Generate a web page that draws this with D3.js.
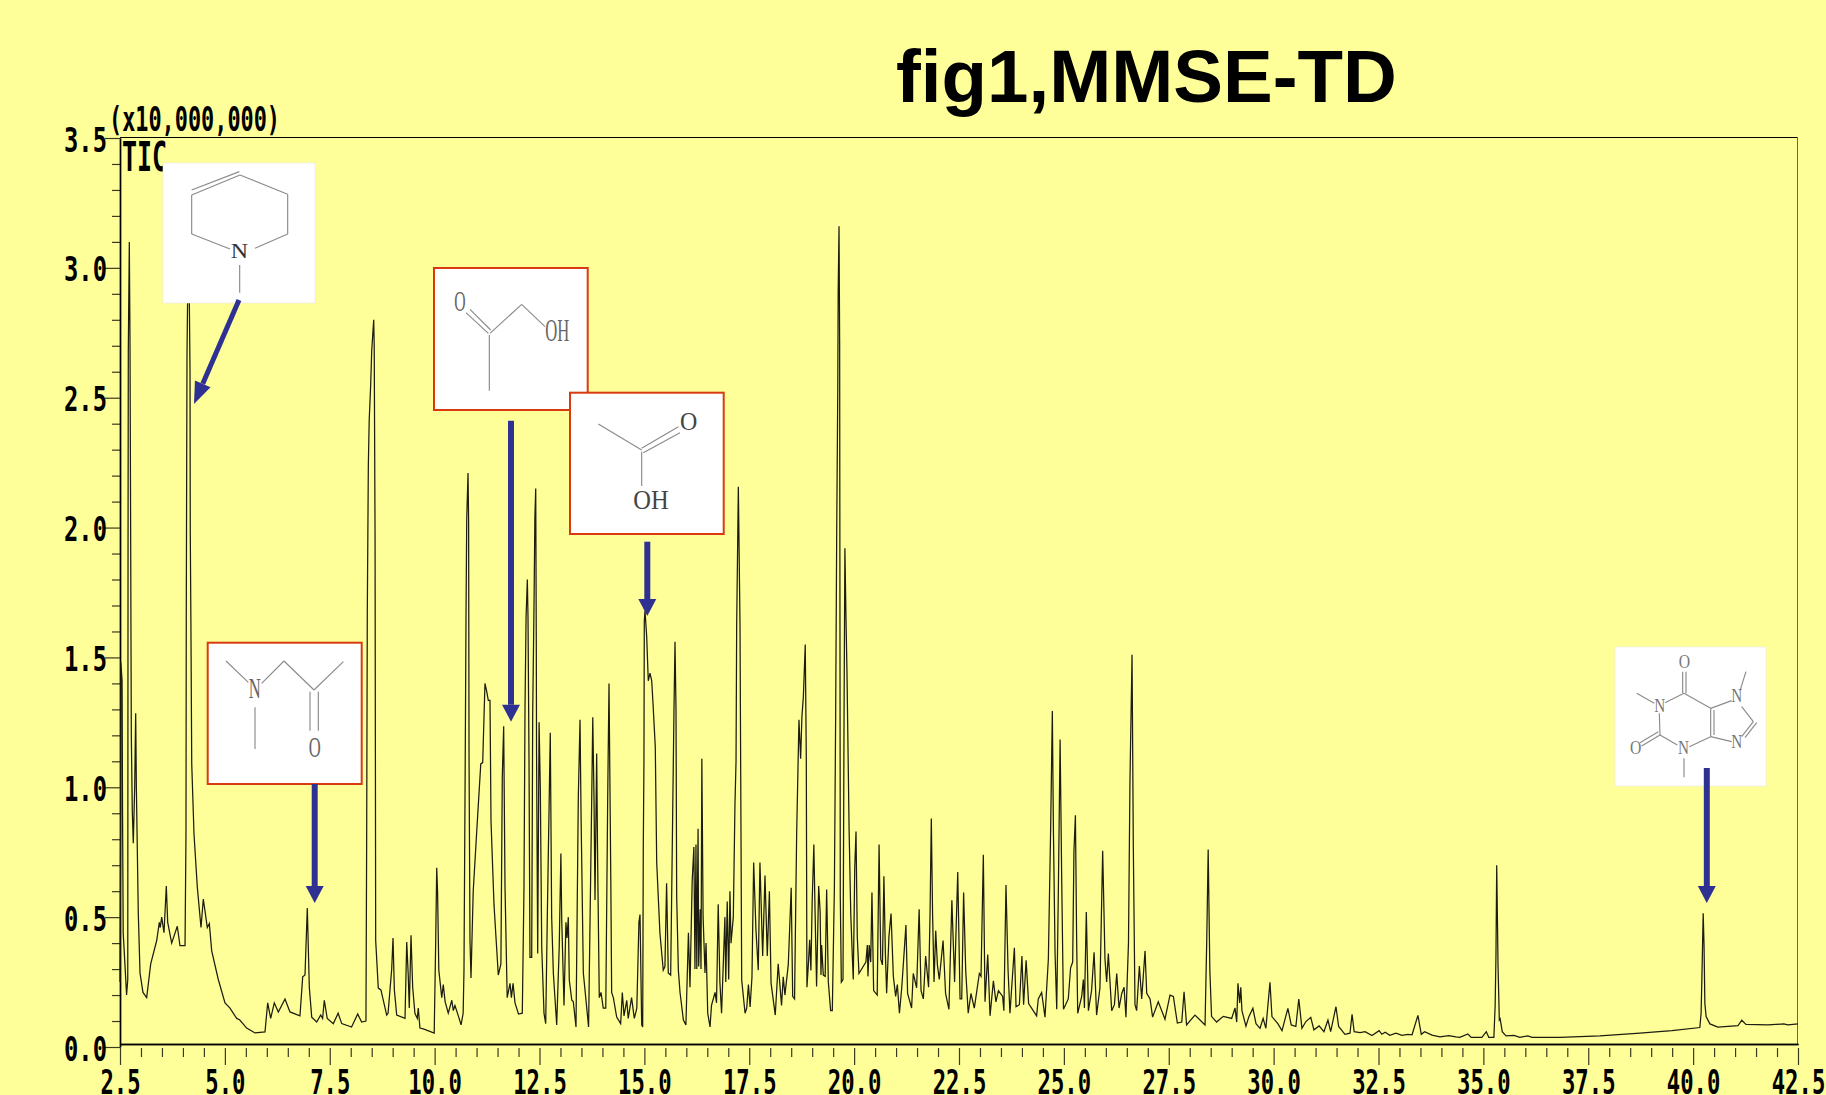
<!DOCTYPE html>
<html>
<head>
  <title>fig1,MMSE-TD</title>
  <style>
    html, body { margin: 0; padding: 0; background: #ffff99; overflow: hidden; }
    svg { display: block; }
    .tick-label { font-family: "DejaVu Sans Mono", monospace; font-weight: bold; fill: #000; }
    .atom { font-family: "Liberation Serif", serif; }
  </style>
  <script src="https://d3js.org/d3.v7.min.js"></script>
</head>
<body>
  <svg id="chart" width="1826" height="1095"></svg>

  <script>
    // retention time (min), TIC (x10,000,000)
    const traceEarly = [
      [2.5,.25],[2.517,.92],[2.52,1.48],[2.55,1.41],[2.56,.92],[2.576,.44],[2.617,.32],[2.657,.2],[2.685,.26],
      [2.692,1.94],[2.698,2.68],[2.722,3.10],[2.738,2.73],[2.755,1.94],[2.762,1.57],[2.77,1.2],[2.793,.91],[2.817,.785],
      [2.85,1.0],[2.874,1.285],[2.89,1.0],[2.936,.515],[2.977,.285],[3.048,.21],[3.136,.19],[3.232,.32],[3.375,.41],
      [3.437,.48],[3.46,.46],[3.494,.5],[3.549,.44],[3.604,.62],[3.637,.48],[3.732,.4],[3.866,.465],[3.93,.39],[4.05,.39],
      [4.073,.82],[4.08,1.67],[4.097,2.66],[4.133,3.2],[4.169,2.6],[4.175,1.99],[4.19,1.64],[4.21,1.09],[4.264,.82],
      [4.343,.615],[4.431,.46],[4.486,.57],[4.581,.46],[4.63,.475],[4.686,.37],[4.843,.26],[5.003,.17],[5.122,.15],
      [5.282,.11],[5.35,.105],[5.52,.073],[5.718,.054],[5.956,.058],[6.021,.17],[6.092,.11],[6.178,.17],[6.274,.135],
      [6.433,.185],[6.552,.135],[6.79,.12],[6.855,.27],[6.91,.277],[6.965,.535],[7.013,.23],[7.07,.115],[7.189,.096],
      [7.284,.123],[7.33,.11],[7.37,.18],[7.44,.11],[7.585,.09],[7.70,.13],[7.785,.09],[8.02,.077],[8.166,.127],[8.26,.096],
      [8.363,.1],[8.38,.8],[8.395,1.67],[8.42,2.24],[8.44,2.41],[8.476,2.55],[8.50,2.68],[8.548,2.80],[8.56,2.7],[8.58,1.97],
      [8.595,.41]
    ];
    const traceMidA = [
      [8.657,.227],[8.72,.22],[8.857,.123],[8.89,.13],[8.936,.22],[8.977,.3],[9.008,.42],[9.04,.22],[9.096,.123],[9.294,.11],
      [9.335,.404],[9.37,.28],[9.396,.15],[9.437,.43],[9.477,.23],[9.53,.13],[9.587,.11],[9.61,.15],[9.65,.073],[9.73,.07],
      [9.99,.054],[10.025,.4],[10.05,.69],[10.07,.6],[10.1,.296],[10.17,.19],[10.206,.24],[10.25,.175],[10.325,.13],
      [10.41,.18],[10.445,.14],[10.485,.16],[10.565,.12],[10.63,.085],[10.68,.13],[10.7,.296],[10.73,1.12],[10.748,1.655],
      [10.765,2.03],[10.796,2.21],[10.81,2.03],[10.82,1.13],[10.843,.41],[10.867,.266],[10.92,.6],[11.0,.82],[11.1,1.09],
      [11.146,1.095],[11.2,1.4],[11.24,1.37],[11.28,1.335],[11.32,1.335],[11.344,.87],[11.415,.55],[11.456,.44],[11.518,.277],
      [11.58,.32],[11.613,1.04],[11.646,1.235],[11.678,.615],[11.73,.19],[11.797,.245],[11.83,.19],[11.87,.245],[11.916,.17],
      [12.0,.127],[12.09,.13],[12.13,.615],[12.155,1.31],[12.18,1.655],[12.21,1.8],[12.226,1.655],[12.25,1.1],[12.273,.345],
      [12.314,.345],[12.338,1.285],[12.37,1.71],[12.39,2.04],[12.41,2.15],[12.423,1.58],[12.43,1.13],[12.457,.36],[12.49,1.25],
      [12.52,.99],[12.553,.385],[12.607,.13],[12.648,.09],[12.686,.5],[12.757,1.21],[12.79,.5],[12.83,.285],[12.91,.085],
      [12.97,.385],[13.01,.745],[13.03,.49],[13.084,.16],[13.13,.48],[13.156,.42],[13.187,.5],[13.21,.258],[13.27,.18],
      [13.305,.175],[13.37,.077],[13.425,.96],[13.466,1.26],[13.49,.9],[13.545,.285],[13.67,.077],[13.745,.96],[13.77,1.27],
      [13.8,.95],[13.823,.566],[13.863,1.13],[13.887,.7],[13.925,.19],[13.966,.21],[14.02,.15],[14.08,.15],[14.125,.95],
      [14.157,1.40],[14.2,.64],[14.22,.21],[14.26,.19],[14.34,.115],[14.435,.09],[14.474,.21],[14.515,.12],[14.58,.18],
      [14.615,.11],[14.695,.19],[14.76,.11],[14.82,.15],[14.87,.48],[14.896,.51],[14.936,.085],[14.96,.077],[14.974,.77],
      [14.99,1.1],[14.998,1.64],[15.015,1.68],[15.055,1.58],[15.093,1.41],[15.134,1.44],[15.175,1.41],[15.21,1.31],[15.236,1.23],
      [15.26,1.155],[15.294,.71],[15.37,.44],[15.45,.296],[15.49,.31],[15.53,.63],[15.57,.285],[15.627,.277],[15.675,.9],
      [15.706,1.3],[15.73,1.56],[15.754,1.3],[15.77,.58],[15.81,.296],[15.85,.21],[15.93,.104],[15.99,.085],[16.05,.44],
      [16.087,.23],[16.14,.64],[16.18,.77],[16.206,.3],[16.23,.78],[16.25,.3],[16.28,.84],[16.295,.31],[16.33,.53],[16.35,.3],
      [16.37,1.11],[16.4,.5],[16.445,.285],[16.47,.4],[16.51,.13],[16.565,.077],[16.6,.16],[16.685,.21],[16.72,.17],[16.76,.55],
      [16.8,.25],[16.84,.13],[16.92,.5],[16.94,.25],[16.975,.56],[17.01,.26],[17.04,.6],[17.065,.4],[17.12,.5],[17.16,.94],
      [17.185,1.1],[17.2,1.62],[17.24,2.157],[17.28,1.62],[17.295,1.1],[17.32,.258],[17.4,.13],[17.44,.15],[17.48,.24],[17.52,.154],
      [17.565,.27],[17.605,.71],[17.66,.45],[17.715,.296],[17.755,.71],[17.82,.35],[17.875,.66],[17.93,.35],[17.98,.6],[18.02,.246],
      [18.12,.123],[18.19,.32],[18.27,.16],[18.31,.27],[18.35,.2],[18.43,.316]
    ];
    const traceMidB = [
      [18.50,.613],[18.535,.195],[18.58,.185],[18.63,.82],[18.66,1.06],[18.685,1.26],[18.725,1.11],[18.755,1.27],[18.79,1.35],
      [18.835,1.55],[18.86,1.11],[18.875,.23],[18.91,.32],[18.94,.413],[18.97,.295],[19.0,.56],[19.04,.78],[19.07,.51],[19.105,.233],
      [19.155,.62],[19.19,.52],[19.21,.277],[19.225,.393],[19.265,.277],[19.31,.272],[19.345,.606],[19.385,.25],[19.44,.14],[19.48,.14],
      [19.53,.62],[19.56,1.28],[19.585,1.985],[19.61,2.53],[19.62,2.91],[19.64,3.16],[19.655,2.71],[19.67,.58],[19.695,.25],[19.735,.26],
      [19.76,1.28],[19.78,1.92],[19.805,1.66],[19.83,1.44],[19.88,.84],[19.92,.51],[19.965,.316],[19.98,.26],[20.015,.69],[20.045,.83],
      [20.075,.426],[20.115,.283],[20.28,.327],[20.315,.393],[20.33,.272],[20.36,.393],[20.395,.327],[20.425,.595],[20.465,.217],
      [20.55,.2],[20.595,.78],[20.635,.338],[20.675,.316],[20.71,.657],[20.745,.36],[20.775,.207],[20.83,.426],[20.88,.514],[20.935,.272],
      [20.99,.195],[21.03,.24],[21.08,.13],[21.135,.228],[21.19,.36],[21.235,.47],[21.275,.206],[21.37,.15],[21.41,.283],[21.49,.228],
      [21.55,.53],[21.595,.217],[21.65,.185],[21.705,.35],[21.775,.23],[21.81,.514],[21.84,.88],[21.87,.514],[21.905,.25],[21.945,.448],
      [21.985,.316],[22.03,.26],[22.12,.41],[22.18,.206],[22.26,.145],[22.33,.565],[22.395,.25],[22.47,.674],[22.525,.185],[22.565,.185],
      [22.61,.595],[22.66,.294],[22.72,.13],[22.785,.206],[22.865,.15],[22.985,.283],[23.025,.272],[23.08,.74],[23.12,.174],[23.185,.356],
      [23.24,.12],[23.32,.255],[23.38,.174],[23.44,.217],[23.54,.195],[23.57,.14],[23.62,.624],[23.67,.294],[23.715,.13],[23.82,.382],
      [23.86,.155],[23.94,.163],[24.0,.35],[24.04,.163],[24.1,.334],[24.16,.167],[24.35,.12],[24.39,.185],[24.47,.21],[24.55,.115],
      [24.63,.338],[24.685,.843],[24.725,1.294],[24.75,.843],[24.79,.36],[24.83,.145],[24.87,.624],[24.91,1.184],[24.95,.624],[24.99,.145],
      [25.105,.185],[25.16,.305],[25.21,.327],[25.24,.755],[25.275,.892],[25.305,.404],[25.33,.13],[25.425,.195],[25.465,.26],[25.49,.15],
      [25.535,.52],[25.585,.14],[25.66,.217],[25.72,.365],[25.78,.123],[25.86,.228],[25.925,.756],[25.98,.338],[26.02,.25],[26.06,.36],
      [26.14,.14],[26.205,.163],[26.26,.283],[26.315,.15],[26.38,.206],[26.435,.23],[26.48,.115],[26.54,.4],[26.575,1.02],[26.625,1.51],
      [26.655,.777],[26.695,.163],[26.735,.14],[26.8,.312],[26.855,.185],[26.935,.37],[26.975,.207],[27.055,.185],[27.115,.115],[27.25,.174],
      [27.41,.107],[27.53,.2],[27.61,.195],[27.705,.092],[27.81,.096],[27.865,.213],[27.925,.085],[28.125,.123],[28.365,.085],[28.405,.404],
      [28.44,.76],[28.48,.294],[28.52,.118],[28.64,.096],[28.8,.118],[29.0,.11],[29.08,.15],[29.12,.096]
    ];
    const traceLate = [
      [29.15,.245],[29.19,.17],[29.217,.23],[29.245,.14],[29.34,.08],[29.41,.117],[29.505,.149],[29.58,.09],[29.675,.072],[29.75,.11],
      [29.815,.072],[29.913,.249],[29.96,.117],[30.1,.09],[30.2,.063],[30.34,.149],[30.42,.085],[30.53,.079],[30.6,.185],[30.675,.072],
      [30.77,.098],[30.885,.114],[30.96,.066],[31.085,.081],[31.2,.059],[31.295,.104],[31.36,.059],[31.486,.155],[31.55,.079],[31.7,.049],
      [31.82,.053],[31.87,.126],[31.92,.059],[32.06,.055],[32.18,.059],[32.345,.044],[32.515,.063],[32.58,.049],[32.66,.057],[32.77,.045],
      [32.915,.053],[33.06,.045],[33.2,.049],[33.3,.047],[33.44,.122],[33.52,.049],[33.6,.059],[33.775,.046],[33.965,.039],[34.175,.044],
      [34.345,.039],[34.44,.037],[34.63,.05],[34.71,.037],[34.965,.037],[35.07,.059],[35.13,.037],[35.25,.037],[35.28,.155],[35.3,.35],
      [35.318,.7],[35.35,.31],[35.38,.104],[35.4,.109],[35.45,.059],[35.54,.043],[35.73,.045],[35.87,.037],[36.06,.043],[36.16,.037],
      [36.825,.037],[37.78,.043],[38.73,.053],[39.495,.063],[40.16,.075],[40.19,.13],[40.21,.271],[40.24,.515],[40.26,.393],[40.28,.168],
      [40.31,.117],[40.4,.089],[40.59,.077],[41.07,.082],[41.16,.103],[41.26,.087],[41.78,.085],[42.16,.089],[42.26,.085],[42.5,.089]
    ];

    const xMajor = [2.5, 5, 7.5, 10, 12.5, 15, 17.5, 20, 22.5, 25, 27.5, 30, 32.5, 35, 37.5, 40, 42.5];
    const xMinor = [3, 3.5, 4, 4.5, 5.5, 6, 6.5, 7, 8, 8.5, 9, 9.5, 10.5, 11, 11.5, 12, 13, 13.5, 14, 14.5, 15.5, 16, 16.5, 17,
      18, 18.5, 19, 19.5, 20.5, 21, 21.5, 22, 23, 23.5, 24, 24.5, 25.5, 26, 26.5, 27, 28, 28.5, 29, 29.5, 30.5, 31, 31.5, 32,
      33, 33.5, 34, 34.5, 35.5, 36, 36.5, 37, 38, 38.5, 39, 39.5, 40.5, 41, 41.5, 42];
    const yMajor = [0, 0.5, 1, 1.5, 2, 2.5, 3, 3.5];
    const yMinor = [0.1, 0.2, 0.3, 0.4, 0.6, 0.7, 0.8, 0.9, 1.1, 1.2, 1.3, 1.4, 1.6, 1.7, 1.8, 1.9, 2.1, 2.2, 2.3, 2.4,
      2.6, 2.7, 2.8, 2.9, 3.1, 3.2, 3.3, 3.4];

    const svg = d3.select('#chart');
    const x = d3.scaleLinear().domain([2.5, 42.5]).range([120, 1798]);
    const y = d3.scaleLinear().domain([0, 3.5]).range([1047, 138]);
    const plotTop = 137, plotBottom = 1044;

    svg.append('rect').attr('width', 1826).attr('height', 1095).attr('fill', '#ffff99');

    // top and right frame
    svg.append('line').attr('x1', 120).attr('x2', 1798).attr('y1', plotTop + 0.5).attr('y2', plotTop + 0.5)
      .attr('stroke', '#000').attr('stroke-width', 1);
    svg.append('line').attr('x1', 1797.5).attr('x2', 1797.5).attr('y1', plotTop).attr('y2', plotBottom)
      .attr('stroke', '#666').attr('stroke-width', 1);

    // minor and major ticks are separate axes
    function bottomAxis(values, size, fmt) {
      const g = svg.append('g').attr('transform', `translate(0,${plotBottom})`)
        .call(d3.axisBottom(x).tickValues(values).tickSize(size).tickSizeOuter(0).tickFormat(fmt || ''));
      g.select('.domain').attr('stroke', '#000').attr('stroke-width', 1.4);
      g.selectAll('.tick line').attr('y1', 4).attr('stroke', '#3a3a20').attr('stroke-width', 1.2);
      return g;
    }
    function leftAxis(values, size, fmt) {
      const g = svg.append('g').attr('transform', 'translate(120,0)')
        .call(d3.axisLeft(y).tickValues(values).tickSize(size).tickSizeOuter(0).tickFormat(fmt || ''));
      g.select('.domain').attr('stroke', '#000').attr('stroke-width', 1.4);
      g.selectAll('.tick line').attr('stroke', '#3a3a20').attr('stroke-width', 1.2);
      return g;
    }
    bottomAxis(xMinor, 13);
    leftAxis(yMinor, 8);

    const xAxisG = bottomAxis(xMajor, 21, d => d.toFixed(1));
    xAxisG.selectAll('.tick text')
      .attr('class', 'tick-label').attr('font-size', 34)
      .attr('dy', null).attr('y', 50)
      .attr('text-anchor', 'middle')
      .attr('textLength', function () { return this.textContent.length * 13.4; })
      .attr('lengthAdjust', 'spacingAndGlyphs');

    const yAxisG = leftAxis(yMajor, 15, d => d.toFixed(1));
    yAxisG.selectAll('.tick text')
      .attr('class', 'tick-label').attr('font-size', 34)
      .attr('x', -13).attr('dy', 13)
      .attr('text-anchor', 'end')
      .attr('textLength', 43)
      .attr('lengthAdjust', 'spacingAndGlyphs');

    // the chromatogram
    const trace = [].concat(traceEarly, traceMidA, traceMidB, traceLate);
    const line = d3.line().x(d => x(d[0])).y(d => y(d[1]));
    svg.append('path').datum(trace)
      .attr('d', line)
      .attr('fill', 'none')
      .attr('stroke', '#1c1c10')
      .attr('stroke-width', 1.25)
      .attr('stroke-linejoin', 'miter');

    // text over the plot
    svg.append('text').attr('x', 896).attr('y', 102)
      .attr('font-family', '"Liberation Sans", Arial, sans-serif').attr('font-weight', 'bold')
      .attr('font-size', 74.5).attr('fill', '#000').text('fig1,MMSE-TD');
    svg.append('text').attr('class', 'tick-label').attr('x', 109).attr('y', 131)
      .attr('font-size', 33).attr('textLength', 171).attr('lengthAdjust', 'spacingAndGlyphs')
      .text('(x10,000,000)');
    svg.append('text').attr('class', 'tick-label').attr('x', 122).attr('y', 171)
      .attr('font-size', 40).attr('textLength', 45).attr('lengthAdjust', 'spacingAndGlyphs')
      .text('TIC');

    // structure insets, drawn in crop coordinates (3x) then scaled down
    const red = '#d83a12';
    const grey = '#8c8c8c';

    function inset(ox, oy, box, border, bonds, atoms, ink) {
      const bx = svg.append('rect')
        .attr('x', box[0]).attr('y', box[1]).attr('width', box[2] - box[0]).attr('height', box[3] - box[1])
        .attr('fill', '#fff');
      if (border) bx.attr('stroke', red).attr('stroke-width', 2);
      else bx.attr('stroke', '#e8e8f0').attr('stroke-width', 0.6);
      const g = svg.append('g').attr('transform', `translate(${ox},${oy}) scale(${1 / 3})`);
      g.selectAll('line').data(bonds).enter().append('line')
        .attr('x1', d => d[0]).attr('y1', d => d[1]).attr('x2', d => d[2]).attr('y2', d => d[3])
        .attr('stroke', grey).attr('stroke-width', 3.5);
      g.selectAll('text').data(atoms).enter().append('text')
        .attr('class', 'atom')
        .attr('x', d => d[0]).attr('y', d => d[1]).attr('font-size', d => d[3])
        .attr('textLength', d => d[4]).attr('lengthAdjust', 'spacingAndGlyphs')
        .attr('fill', ink)
        .text(d => d[2]);
    }

    function arrow(x1, y1, x2, y2, w, headW, headL) {
      const a = Math.atan2(y2 - y1, x2 - x1);
      const ux = Math.cos(a), uy = Math.sin(a);
      const bx = x2 - ux * headL, by = y2 - uy * headL;
      svg.append('line').attr('x1', x1).attr('y1', y1).attr('x2', bx).attr('y2', by)
        .attr('stroke', '#2e3192').attr('stroke-width', w);
      svg.append('path')
        .attr('d', d3.line()([[x2, y2], [bx - uy * headW / 2, by + ux * headW / 2], [bx + uy * headW / 2, by - ux * headW / 2]]) + 'Z')
        .attr('fill', '#2e3192');
    }

    inset(90, 100, [163, 163, 315, 303], false,
      [[305, 285, 450, 225], [305, 270, 448, 215], [450, 225, 593, 283], [593, 283, 593, 402], [593, 402, 495, 445],
       [305, 402, 420, 447], [305, 285, 305, 402], [449, 495, 449, 578]],
      [[422, 473, 'N', 66, 52]], '#333');

    inset(90, 620, [207.7, 642.7, 361.7, 784], true,
      [[408, 123, 475, 187], [515, 190, 582, 123], [582, 123, 672, 210], [672, 210, 760, 125],
       [660, 215, 660, 332], [685, 215, 685, 332], [495, 262, 495, 387]],
      [[476, 235, 'N', 90, 36], [656, 410, 'O', 90, 36]], '#666');

    inset(420, 250, [434, 268, 587.7, 410], true,
      [[138, 188, 205, 250], [150, 178, 212, 240], [210, 250, 305, 163], [305, 163, 375, 230], [208, 255, 208, 422]],
      [[103, 183, 'O', 90, 34], [376, 272, 'OH', 92, 72]], '#666');

    inset(420, 250, [570, 392.7, 723.7, 534], true,
      [[535, 522, 665, 600], [665, 595, 775, 530], [670, 608, 780, 548], [665, 605, 665, 708]],
      [[780, 540, 'O', 78, 52], [640, 778, 'OH', 82, 106]], '#444');

    inset(1600, 630, [1615, 647, 1766, 786], false,
      [[248, 125, 248, 190], [258, 125, 258, 190], [195, 218, 252, 190], [252, 190, 332, 235], [332, 235, 332, 320],
       [342, 240, 342, 315], [332, 320, 268, 350], [232, 345, 180, 315], [178, 250, 180, 315], [180, 315, 125, 348],
       [175, 305, 120, 338], [110, 190, 163, 220], [252, 385, 252, 442], [332, 235, 395, 212], [332, 320, 395, 335],
       [425, 230, 460, 275], [460, 275, 425, 320], [470, 278, 435, 323], [420, 182, 438, 125]],
      [[236, 113, 'O', 54, 34], [163, 245, 'N', 54, 33], [234, 372, 'N', 54, 33], [394, 217, 'N', 54, 33],
       [394, 354, 'N', 54, 33], [90, 371, 'O', 54, 34]], '#777');

    arrow(239, 300, 194, 404, 5, 17, 22);
    arrow(314.7, 784, 314.7, 903, 6, 18, 17);
    arrow(511, 420.7, 511, 721.7, 6, 18, 17);
    arrow(647.3, 541.7, 647.3, 616, 6, 18, 17);
    arrow(1706.8, 768, 1706.8, 903, 6, 18, 17);
  </script>
</body>
</html>
